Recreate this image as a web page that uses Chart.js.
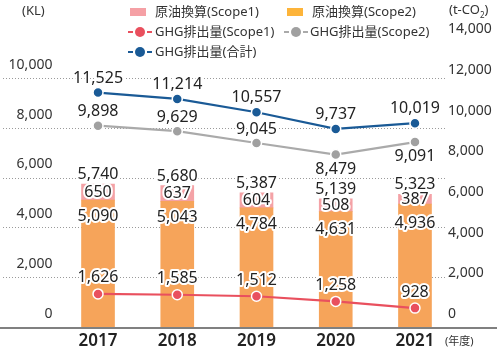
<!DOCTYPE html>
<html><head><meta charset="utf-8">
<script src="https://cdn.jsdelivr.net/npm/chart.js@4"></script>
<style>
html,body{margin:0;padding:0;background:#fff;}
#wrap{position:relative;width:500px;height:357px;font-family:"Noto Sans","Noto Sans CJK JP",sans-serif;color:#333;}
#c{position:absolute;left:0;top:0;}
.t{position:absolute;white-space:nowrap;font-size:13px;line-height:13px;}
.box{position:absolute;width:16px;height:8px;}
.mk{position:absolute;}
</style></head><body>
<div id="wrap">
<canvas id="c" width="500" height="357"></canvas>
<div class="t" style="left:22px;top:4px;">(KL)</div>
<div class="t" style="left:449px;top:3px;">(t-CO<sub style="font-size:8px;line-height:0;">2</sub>)</div>
<div class="box" style="left:130px;top:8px;background:#F5A0A5;"></div>
<div class="t" style="left:155px;top:5px;">原油換算(Scope1)</div>
<div class="box" style="left:287px;top:8px;background:#FDB43A;"></div>
<div class="t" style="left:312px;top:5px;">原油換算(Scope2)</div>
<svg class="mk" style="left:128px;top:27px;" width="24" height="10"><line x1="0" y1="5" x2="5" y2="5" stroke="#E9505E" stroke-width="2"/><line x1="19" y1="5" x2="24" y2="5" stroke="#E9505E" stroke-width="2"/><circle cx="12" cy="5" r="5" fill="#E9505E"/></svg>
<div class="t" style="left:155px;top:25px;">GHG排出量(Scope1)</div>
<svg class="mk" style="left:284px;top:27px;" width="24" height="10"><line x1="0" y1="5" x2="5" y2="5" stroke="#AAAAAA" stroke-width="2"/><line x1="19" y1="5" x2="24" y2="5" stroke="#AAAAAA" stroke-width="2"/><circle cx="12" cy="5" r="5" fill="#A0A0A0"/></svg>
<div class="t" style="left:310px;top:25px;">GHG排出量(Scope2)</div>
<svg class="mk" style="left:128px;top:47px;" width="24" height="10"><line x1="0" y1="5" x2="5" y2="5" stroke="#1A5A96" stroke-width="2"/><line x1="19" y1="5" x2="24" y2="5" stroke="#1A5A96" stroke-width="2"/><circle cx="12" cy="5" r="5" fill="#1A5A96"/></svg>
<div class="t" style="left:155px;top:45px;">GHG排出量(合計)</div>
<div class="t" style="left:445px;top:335px;font-size:11px;line-height:11px;">(年度)</div>
</div>
<script>
const years = ['2017', '2018', '2019', '2020', '2021'];
const crudeScope1 = [650, 637, 604, 508, 387];
const crudeScope2 = [5090, 5043, 4784, 4631, 4936];
const crudeTotal = [5740, 5680, 5387, 5139, 5323];
const ghgScope1 = [1626, 1585, 1512, 1258, 928];
const ghgScope2 = [9898, 9629, 9045, 8479, 9091];
const ghgTotal = [11525, 11214, 10557, 9737, 10019];
const leftTicks = [0, 2000, 4000, 6000, 8000, 10000];
const rightTicks = [0, 2000, 4000, 6000, 8000, 10000, 12000, 14000];

const fmt = v => Number(v).toLocaleString('en-US');
const FONT = '"Noto Sans","Noto Sans CJK JP",sans-serif';

const gridPlugin = {
  id: 'customGrid',
  beforeDatasetsDraw(chart) {
    const ctx = chart.ctx, ys = chart.scales.y;
    ctx.save();
    ctx.strokeStyle = '#9a9a9a';
    ctx.lineWidth = 1;
    ctx.setLineDash([1, 2]);
    leftTicks.forEach(v => {
      if (v === 0) return;
      const py = Math.round(ys.getPixelForValue(v)) + 0.5;
      ctx.beginPath(); ctx.moveTo(3, py); ctx.lineTo(445, py); ctx.stroke();
    });
    ctx.restore();
  },
  afterDatasetsDraw(chart) {
    const ctx = chart.ctx, ys = chart.scales.y, yr = chart.scales.y1;
    ctx.save();
    ctx.strokeStyle = '#808080';
    ctx.lineWidth = 2;
    const p0 = ys.getPixelForValue(0) + 1;
    ctx.beginPath(); ctx.moveTo(0, p0); ctx.lineTo(497, p0); ctx.stroke();
    // right axis tick labels
    ctx.font = '14px ' + FONT;
    ctx.fillStyle = '#333';
    ctx.textAlign = 'left';
    ctx.textBaseline = 'middle';
    rightTicks.forEach(v => {
      ctx.fillText(fmt(v), 448, yr.getPixelForValue(v) - 13);
    });
    ctx.restore();
  }
};

const labelPlugin = {
  id: 'valueLabels',
  afterDatasetsDraw(chart) {
    const ctx = chart.ctx;
    ctx.save();
    ctx.font = '16px ' + FONT;
    ctx.textAlign = 'center';
    ctx.textBaseline = 'middle';
    ctx.lineJoin = 'round';
    const draw = (t, x, y) => {
      ctx.strokeStyle = '#fff'; ctx.lineWidth = 4; ctx.strokeText(t, x, y);
      ctx.fillStyle = '#222'; ctx.fillText(t, x, y);
    };
    const mBlue = chart.getDatasetMeta(0).data;
    const mGray = chart.getDatasetMeta(1).data;
    const mRed = chart.getDatasetMeta(2).data;
    const mOr = chart.getDatasetMeta(3).data;
    const mPk = chart.getDatasetMeta(4).data;
    years.forEach((_, i) => {
      const pk = mPk[i], or = mOr[i];
      const pkC = (pk.y + pk.base) / 2;
      draw(fmt(crudeTotal[i]), pk.x, pk.y - 9.5);
      draw(fmt(crudeScope1[i]), pk.x, pkC);
      draw(fmt(crudeScope2[i]), or.x, pkC + 24);
      draw(fmt(ghgScope1[i]), mRed[i].x, mRed[i].y - 16);
      draw(fmt(ghgTotal[i]), mBlue[i].x, mBlue[i].y - 14.5);
      const gap = mGray[i].y - mBlue[i].y;
      draw(fmt(ghgScope2[i]), mGray[i].x, gap < 28 ? mGray[i].y + 14.5 : mGray[i].y - 14);
    });
    ctx.restore();
  }
};

const lineDs = (label, data, color, ptColor) => ({
  type: 'line', label, data, yAxisID: 'y1', order: 0,
  borderColor: color, borderWidth: 2.2, tension: 0,
  pointRadius: 5, pointBackgroundColor: ptColor, pointBorderColor: '#fff', pointBorderWidth: 1.5
});

new Chart(document.getElementById('c'), {
  type: 'bar',
  data: {
    labels: years,
    datasets: [
      lineDs('GHG排出量(合計)', ghgTotal, '#1A5A96', '#1A5A96'),
      lineDs('GHG排出量(Scope2)', ghgScope2, '#AAAAAA', '#A0A0A0'),
      lineDs('GHG排出量(Scope1)', ghgScope1, '#E9505E', '#E9505E'),
      { label: '原油換算(Scope2)', data: crudeScope2, backgroundColor: '#F6A45A', yAxisID: 'y', order: 1, barThickness: 33, stack: 's' },
      { label: '原油換算(Scope1)', data: crudeScope1, backgroundColor: '#F4A2A6', yAxisID: 'y', order: 1, barThickness: 33, stack: 's' }
    ]
  },
  options: {
    responsive: false,
    animation: false,
    layout: { padding: { top: 28, left: 0, right: 0, bottom: 0 } },
    plugins: { legend: { display: false }, tooltip: { enabled: false } },
    scales: {
      x: {
        stacked: true,
        grid: { display: false, drawTicks: false },
        border: { display: false },
        ticks: { color: '#222', font: { size: 17, weight: '600', family: FONT }, padding: 4 },
        afterFit: s => { s.height = 30; }
      },
      y: {
        position: 'left', stacked: true, min: 0, max: 12000,
        afterBuildTicks: s => { s.ticks = leftTicks.map(v => ({ value: v })); },
        grid: { display: false, drawTicks: false },
        border: { display: false },
        ticks: { color: '#333', font: { size: 14, family: FONT }, padding: 6, labelOffset: -13, callback: v => fmt(v) },
        afterFit: s => { s.width = 58.4; }
      },
      y1: {
        position: 'right', min: 0, max: 14700,
        afterBuildTicks: s => { s.ticks = rightTicks.map(v => ({ value: v })); },
        grid: { display: false, drawTicks: false },
        border: { display: false },
        ticks: { display: false },
        afterFit: s => { s.width = 45.4; }
      }
    }
  },
  plugins: [gridPlugin, labelPlugin]
});
</script>
</body></html>
